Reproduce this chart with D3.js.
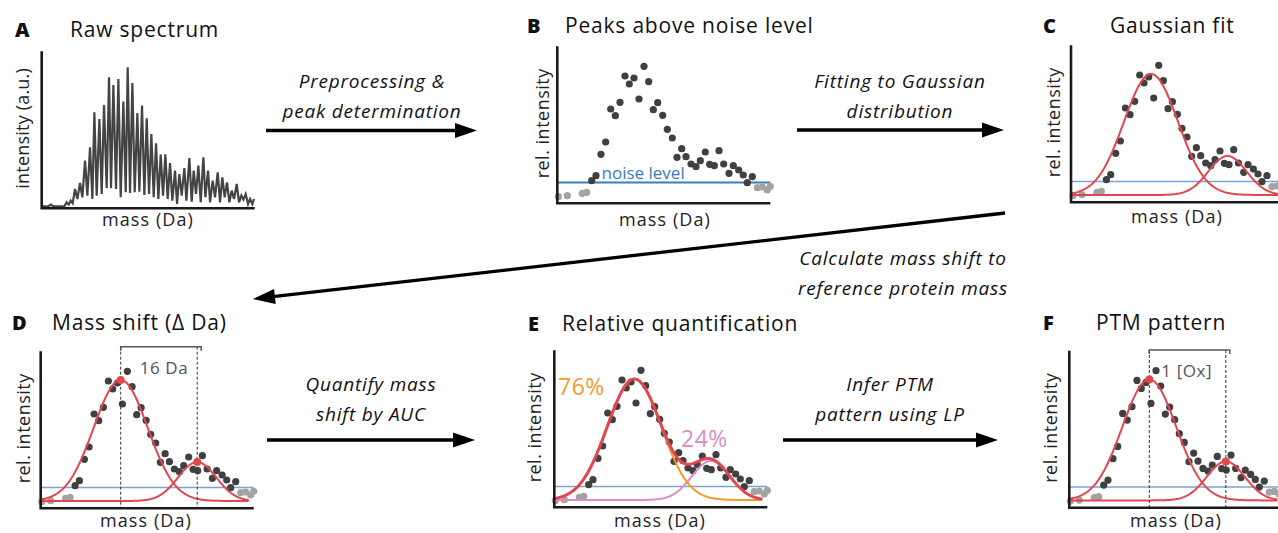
<!DOCTYPE html>
<meta charset="utf-8">
<script src="https://d3js.org/d3.v7.min.js"></script>
<style>
  body { margin: 0; background: #fff; }
  text { font-family: "Open Sans", Lato, sans-serif; }
</style>
<div id="fig"></div>
<script>
// raw spectrum (panel A): mass index vs intensity
const specMass = [0, 20, 27, 35, 68, 75, 81, 87, 93, 100, 107, 115, 122, 130, 137, 145, 152, 158, 165, 173, 180, 187, 195, 202, 208,
  215, 223, 230, 237, 245, 252, 258, 265, 272, 279, 287, 293, 301, 308, 315, 322, 329, 336, 343, 350, 357, 364, 371, 378,
  385, 392, 400, 406, 413, 420, 428, 434, 443, 450, 456, 463, 470, 477, 485, 491, 499, 505, 513, 520, 528, 535, 542, 549,
  556, 563, 570, 577, 585, 592, 599, 605, 612, 619, 625, 632, 637];
const specInt = [2, 2, 3.7, 2, 2, 6, 3.7, 7.7, 5, 19.3, 9.3, 25.3, 11, 47.7, 12.7, 61, 9.3, 96, 12.7, 89.3, 14.3, 103.3, 20, 131,
  20, 123.3, 19.3, 129.3, 11, 106.7, 16, 141, 15.3, 125.3, 16, 95.3, 16.7, 102.7, 13.3, 90, 14.3, 74.3, 11, 65, 9.3,
  53.7, 12.7, 54, 9.3, 45.3, 7.7, 37.7, 4.3, 34.3, 12.7, 40.3, 7.7, 50.3, 6.7, 37.7, 14.3, 42.7, 6, 51, 11, 37.7, 6,
  27.7, 11, 36, 6, 31, 11, 26, 6, 17.7, 9.3, 24.3, 6, 12.7, 8.7, 14.3, 4.3, 9.3, 4.3, 9.3];

// peak picks (panels B-F)
const peakMass = [1, 10, 25, 29.4, 34.4, 38.7, 43.7, 48.4, 53.4, 58, 62.7, 67.7, 72, 76.7, 81.7, 86.7, 91.4, 96, 100.4, 105.4,
  110, 115, 119.7, 124.4, 128.7, 133.7, 138.7, 143, 148, 152.4, 157, 161.7, 166.4, 171.7, 176, 181.4, 186, 190, 195,
  200, 205, 210, 213];
const peakInt = [6.6, 7.6, 10, 11, 22.6, 27.6, 49, 61.3, 94.3, 87.6, 101, 127.3, 119.3, 125.3, 104.3, 137, 121.6, 93.6, 100.6, 88,
  74, 65.3, 46, 54.6, 46.6, 39.3, 36.6, 42.6, 51.3, 39, 37.6, 52.6, 39.3, 30, 37.6, 33.3, 28.3, 20.6, 26.6,
  15.6, 16.3, 13.3, 17];
const noiseLevel = 20.8;

// gaussian fit parameters: [main species, +16 Da species]
const gaussCenter = [80, 156.5];
const gaussHeight = [121, 39];
const gaussSigma = [27, 19];
const gaussBase = 7.3;
const shares = ["76%", "24%"];

const W = 1278, H = 533;
const pw = 213, ph = 155;
const red = "#e2474f", blueB = "#3b7cbf", blue = "#79a4d8";
const dark = "#404040", grey = "#a3a3a3";

const svg = d3.select("#fig").append("svg")
  .attr("width", W).attr("height", H);

svg.append("defs").append("clipPath").attr("id", "edge")
  .append("rect").attr("x", 0).attr("y", 0).attr("width", W).attr("height", H);

function gauss(i, m) {
  return gaussHeight[i] * Math.exp(-((m - gaussCenter[i]) ** 2) / (2 * gaussSigma[i] ** 2));
}
const fitGrid = d3.range(0, 208.5, 1);

function label(sel, size, ls) {
  return sel.style("font-size", size + "px").style("letter-spacing", ls + "px");
}

function panel(left, bottom, letter, title, titleX, titleY, ylab, ylabX, xlabX, xlabY) {
  const g = svg.append("g");
  const x = d3.scaleLinear().domain([0, pw]).range([left, left + pw]);
  const y = d3.scaleLinear().domain([0, ph]).range([bottom, bottom - ph]);
  g.append("text").attr("x", letter[1]).attr("y", titleY)
    .style("font-size", "20px").style("font-weight", 800).attr("fill", "#111").text(letter[0]);
  label(g.append("text").attr("x", titleX).attr("y", titleY), 21, 0.8)
    .attr("fill", "#111").text(title);
  label(g.append("text").attr("transform", `translate(${ylabX},${bottom - 80}) rotate(-90)`), 18, ylab.length > 14 ? 0.2 : 0.5)
    .attr("text-anchor", "middle").attr("fill", "#222").text(ylab);
  label(g.append("text").attr("x", xlabX).attr("y", xlabY), 18, 1.1)
    .attr("text-anchor", "middle").attr("fill", "#222").text("mass (Da)");
  return { g, x, y, left, bottom };
}

function axes(p) {
  p.g.append("path")
    .attr("d", `M${p.left},${p.bottom - ph - 2}V${p.bottom}H${p.left + pw}`)
    .attr("fill", "none").attr("stroke", "#1a1a1a").attr("stroke-width", 2.6);
}

function dots(p, shift) {
  p.g.append("g").attr("clip-path", "url(#edge)").selectAll("circle")
    .data(peakMass.map((m, i) => [m, peakInt[i]]))
    .join("circle")
    .attr("cx", d => p.x(d[0] + shift))
    .attr("cy", d => p.y(d[1]))
    .attr("r", 3.6)
    .attr("fill", d => d[1] > 18 ? dark : grey);
}

function noise(p, color, wdt) {
  p.g.append("line")
    .attr("x1", p.left).attr("x2", p.left + pw)
    .attr("y1", p.y(noiseLevel)).attr("y2", p.y(noiseLevel))
    .attr("stroke", color).attr("stroke-width", wdt);
}

function fitLine(p, f, color, wdt) {
  p.g.append("path")
    .datum(fitGrid)
    .attr("d", d3.line().x(m => p.x(m)).y(m => p.y(f(m))))
    .attr("fill", "none").attr("stroke", color).attr("stroke-width", wdt);
}

function fits(p) {
  fitLine(p, m => gaussBase + gauss(0, m), red, 2);
  fitLine(p, m => gaussBase + gauss(1, m), red, 2);
}

function bracket(p, by, lab) {
  const xa = p.x(gaussCenter[0]), xb = p.x(gaussCenter[1]);
  [xa, xb].forEach(xx => p.g.append("line")
    .attr("x1", xx).attr("x2", xx).attr("y1", by).attr("y2", p.bottom)
    .attr("stroke", "#333").attr("stroke-width", 1).attr("stroke-dasharray", "3,2"));
  p.g.append("path")
    .attr("d", `M${xa},${by + 4}V${by}H${xb + 4}V${by + 4}`)
    .attr("fill", "none").attr("stroke", "#555").attr("stroke-width", 1.5);
  label(p.g.append("text").attr("x", xa + lab[1]).attr("y", by + 27), 17, 0.6)
    .attr("fill", "#555").text(lab[0]);
  gaussCenter.forEach((c, i) => p.g.append("circle")
    .attr("cx", p.x(c)).attr("cy", p.y(gaussBase + gaussHeight[i])).attr("r", 4).attr("fill", red));
}

// A raw spectrum
const pA = panel(41.7, 208.3, ["A", 15], "Raw spectrum", 70, 37, "intensity (a.u.)", 29, 148, 226);
const xs = d3.scaleLinear().domain([0, 639]).range([pA.left, pA.left + pw]);
pA.g.append("path")
  .datum(specMass.map((m, i) => [m, specInt[i]]))
  .attr("d", d3.line().x(d => xs(d[0])).y(d => pA.y(d[1])))
  .attr("fill", "none").attr("stroke", "#444").attr("stroke-width", 2.2);
axes(pA);

// B peaks above noise
const pB = panel(557.3, 203.3, ["B", 527], "Peaks above noise level", 565, 33, "rel. intensity", 549, 665, 226);
noise(pB, blueB, 2);
dots(pB, 0);
label(pB.g.append("text").attr("x", 601.5).attr("y", 178.5), 17, 0)
  .attr("fill", blueB).text("noise level");
axes(pB);

// C gaussian fit
const pC = panel(1071, 202.3, ["C", 1043], "Gaussian fit", 1110, 33, "rel. intensity", 1060, 1177, 223);
noise(pC, blue, 1.5);
dots(pC, 1);
fits(pC);
axes(pC);

// D mass shift
const pD = panel(40.7, 508.3, ["D", 12], "Mass shift (\u0394 Da)", 52, 330, "rel. intensity", 30, 146, 527);
noise(pD, blue, 1.5);
dots(pD, 0);
fits(pD);
bracket(pD, 346.7, ["16 Da", 19]);
axes(pD);

// E relative quantification
const pE = panel(554.3, 507.3, ["E", 528], "Relative quantification", 562, 331, "rel. intensity", 541, 660, 527);
noise(pE, blue, 1.5);
dots(pE, 0);
fitLine(pE, m => gaussBase + gauss(1, m), "#d98cc6", 2);
fitLine(pE, m => gaussBase + gauss(0, m), "#f39a2c", 2);
fitLine(pE, m => gaussBase + gauss(0, m) + gauss(1, m), red, 3);
label(pE.g.append("text").attr("x", 558).attr("y", 395), 23, 0.5)
  .attr("fill", "#f39a2c").text(shares[0]);
label(pE.g.append("text").attr("x", 681).attr("y", 447), 23, 0.5)
  .attr("fill", "#d98cc6").text(shares[1]);
axes(pE);

// F PTM pattern
const pF = panel(1069.3, 507.7, ["F", 1043], "PTM pattern", 1096, 330, "rel. intensity", 1057, 1176, 527);
noise(pF, blue, 1.5);
dots(pF, 0);
fits(pF);
bracket(pF, 350, ["1 [Ox]", 12]);
axes(pF);

// process arrows
function arrow(x1, y1, x2, y2) {
  const a = Math.atan2(y2 - y1, x2 - x1), L = 22, hw = 7.5;
  const bx = x2 - L * Math.cos(a), by = y2 - L * Math.sin(a);
  svg.append("line").attr("x1", x1).attr("y1", y1).attr("x2", bx + 2 * Math.cos(a)).attr("y2", by + 2 * Math.sin(a))
    .attr("stroke", "#000").attr("stroke-width", 3.3);
  svg.append("path")
    .attr("d", `M${x2},${y2}L${bx - hw * Math.sin(a)},${by + hw * Math.cos(a)}L${bx + hw * Math.sin(a)},${by - hw * Math.cos(a)}Z`)
    .attr("fill", "#000");
}
function caption(cx, y, lines) {
  lines.forEach((t, i) => label(svg.append("text").attr("x", cx).attr("y", y + i * 29.5), 19, 0.8)
    .attr("text-anchor", "middle").style("font-style", "italic")
    .attr("fill", "#111").text(t));
}

arrow(266, 130.5, 477, 130.5);
caption(372, 88, ["Preprocessing &", "peak determination"]);
arrow(797, 130, 1004, 130);
caption(900, 88, ["Fitting to Gaussian", "distribution"]);
arrow(1005, 213, 253, 299);
caption(903, 265, ["Calculate mass shift to", "reference protein mass"]);
arrow(267, 440, 475, 440);
caption(371, 391, ["Quantify mass", "shift by AUC"]);
arrow(783, 440, 998, 440);
caption(890, 391, ["Infer PTM", "pattern using LP"]);
</script>
